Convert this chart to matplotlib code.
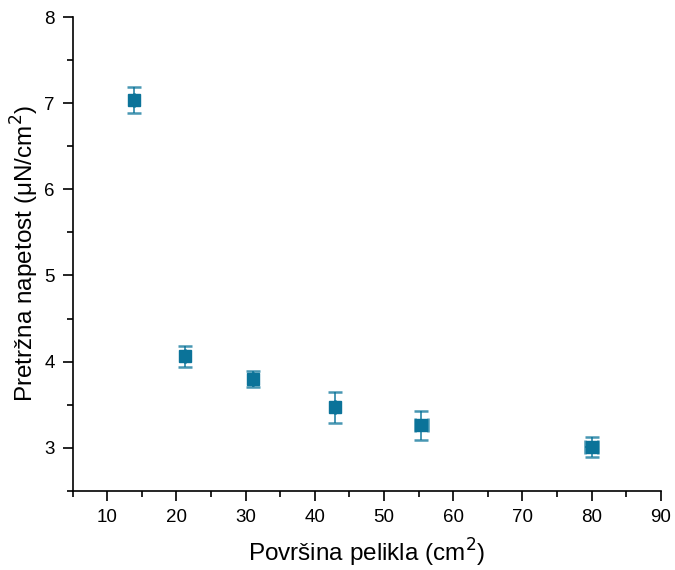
import matplotlib
matplotlib.use("Agg")
import matplotlib.pyplot as plt
from matplotlib.ticker import MultipleLocator

plt.rcParams['font.family'] = ['Liberation Sans', 'DejaVu Sans']

# film area (cm^2) vs breaking stress (uN/cm^2)
area = [13.8, 21.2, 31.1, 42.9, 55.4, 80.0]
stress = [7.04, 4.06, 3.80, 3.47, 3.26, 3.01]
stress_err = [0.15, 0.12, 0.09, 0.18, 0.17, 0.12]
area_err = [0.0, 0.0, 0.0, 0.0, 1.0, 0.97]

color = '#0b7399'

fig = plt.figure(figsize=(6.75, 5.7), dpi=100)
ax = fig.add_axes([0.1077, 0.139, 0.979 - 0.1077, 0.970 - 0.139])

ax.errorbar(area, stress, yerr=stress_err, xerr=area_err, fmt='s', color=color,
            markersize=9, ecolor=(0.04, 0.45, 0.6, 0.75), elinewidth=1.4,
            capsize=5, capthick=1.8, zorder=3)

ax.set_xlim(5, 90)
ax.set_ylim(2.5, 8)
ax.xaxis.set_minor_locator(MultipleLocator(5))
ax.yaxis.set_minor_locator(MultipleLocator(0.5))
ax.set_xticks(range(10, 91, 10))
ax.set_yticks(range(3, 9))

ax.spines['top'].set_visible(False)
ax.spines['right'].set_visible(False)
for s in ('left', 'bottom'):
    ax.spines[s].set_linewidth(1.2)
ax.tick_params(which='major', direction='out', length=7, width=1.2, labelsize=13.5)
ax.tick_params(axis='x', which='major', pad=6)
ax.tick_params(axis='y', which='major', pad=6)
ax.tick_params(which='minor', direction='out', length=4, width=1.2)

ax.set_xlabel('Površina pelikla (cm$^2$)', fontsize=17.5, labelpad=8)
ax.set_ylabel('Pretržna napetost (μN/cm$^2$)', fontsize=17.5, labelpad=2)

fig.savefig('out.png', dpi=100)
